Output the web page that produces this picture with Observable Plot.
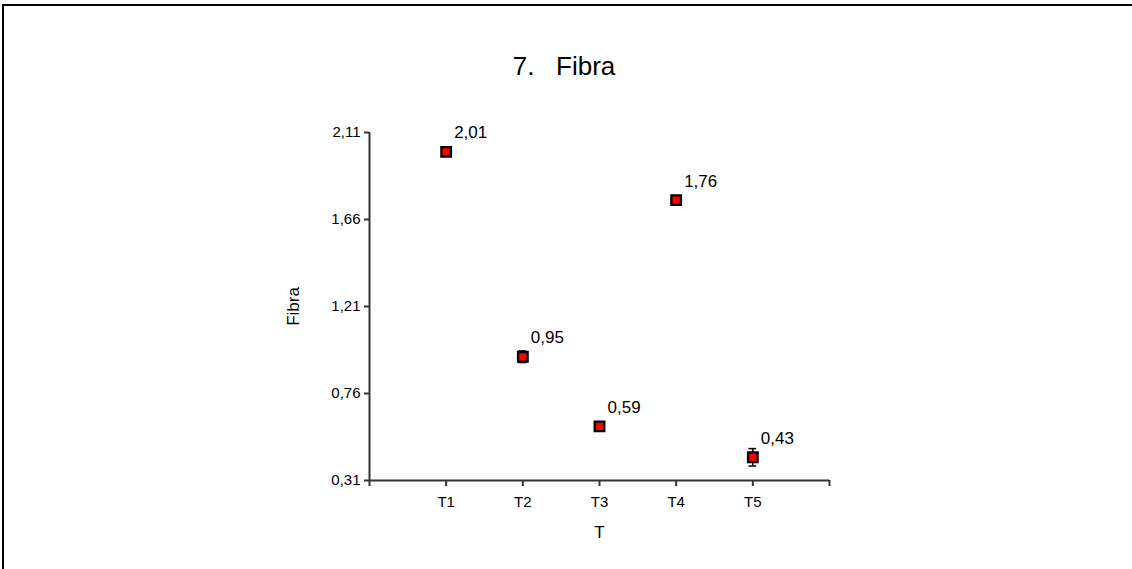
<!DOCTYPE html>
<html><head><meta charset="utf-8">
<script src="https://cdn.jsdelivr.net/npm/d3@7"></script>
<script src="https://cdn.jsdelivr.net/npm/@observablehq/plot@0.6"></script>
<style>
body{margin:0;background:#fff;overflow:hidden;font-family:"Liberation Sans",Arial,sans-serif;}
#frame{position:absolute;left:2px;top:4px;width:1200px;height:700px;border-top:2px solid #000;border-left:2px solid #000;}
#chart{position:absolute;left:0;top:0;}
#title{position:absolute;top:51px;left:0;width:1128px;text-align:center;font-size:26px;white-space:pre;color:#000;}
</style></head><body>
<div id="frame"></div>
<div id="chart"></div>
<div id="title">7.   Fibra</div>
<script>
const categories = ["T1","T2","T3","T4","T5"];
const means = [2.01, 0.95, 0.59, 1.76, 0.43];
const errors = [0.012, 0.03, 0.01, 0.012, 0.045];
const valueLabels = ["2,01","0,95","0,59","1,76","0,43"];
const yTicks = [0.31, 0.76, 1.21, 1.66, 2.11];
const xTickPositions = [0,1,2,3,4,5,6];
const yLabel = "Fibra";
const xLabel = "T";

const data = categories.map((c,i) => ({
  cat: c, pos: i + 1, mean: means[i], lo: means[i] - errors[i], hi: means[i] + errors[i], label: valueLabels[i]
}));
const capHalf = 0.05;
const fmtY = d => d.toFixed(2).replace(".", ",");
const yMin = yTicks[0];

const chart = Plot.plot({
  width: 1132, height: 569,
  marginLeft: 369, marginRight: 303, marginTop: 132, marginBottom: 89,
  x: {type: "linear", domain: [0, 6]},
  y: {type: "linear", domain: [0.31, 2.11]},
  style: {fontFamily: '"Liberation Sans", Arial, sans-serif', fontSize: "15px", background: "transparent", color: "#000"},
  marks: [
    Plot.ruleY([yMin], {stroke: "#333", strokeWidth: 2}),
    Plot.ruleX([0], {stroke: "#333", strokeWidth: 2}),
    Plot.axisX({ticks: xTickPositions, tickFormat: () => "", tickSize: 6, stroke: "#333", strokeWidth: 2, label: null}),
    Plot.axisY({ticks: yTicks, tickFormat: () => "", tickSize: 5, stroke: "#333", strokeWidth: 2, label: null}),
    Plot.text(categories, {x: (d, i) => i + 1, y: () => yMin, dy: 22, text: d => d, fontSize: 15, fill: "#000"}),
    Plot.text(yTicks, {x: () => 0, y: d => d, text: fmtY, textAnchor: "end", dx: -9, fontSize: 15, fill: "#000"}),
    Plot.text([xLabel], {frameAnchor: "bottom", lineAnchor: "middle", dy: 52, fontSize: 17, fill: "#000"}),
    Plot.text([yLabel], {frameAnchor: "left", textAnchor: "middle", lineAnchor: "middle", dx: -76, rotate: -90, fontSize: 17, fill: "#000"}),
    Plot.ruleX(data, {x: "pos", y1: "lo", y2: "hi", stroke: "#000", strokeWidth: 1.5}),
    Plot.ruleY(data, {x1: d => d.pos - capHalf, x2: d => d.pos + capHalf, y: "lo", stroke: "#000", strokeWidth: 1.5}),
    Plot.ruleY(data, {x1: d => d.pos - capHalf, x2: d => d.pos + capHalf, y: "hi", stroke: "#000", strokeWidth: 1.5}),
    Plot.dot(data, {x: "pos", y: "mean", symbol: "square", r: 5.4, fill: "#ff0000", stroke: "#000", strokeWidth: 2.3}),
    Plot.text(data, {x: "pos", y: "mean", text: "label", dx: 8, dy: -19, textAnchor: "start", fontSize: 17, fill: "#000"})
  ]
});
document.getElementById("chart").append(chart);
</script>
</body></html>
